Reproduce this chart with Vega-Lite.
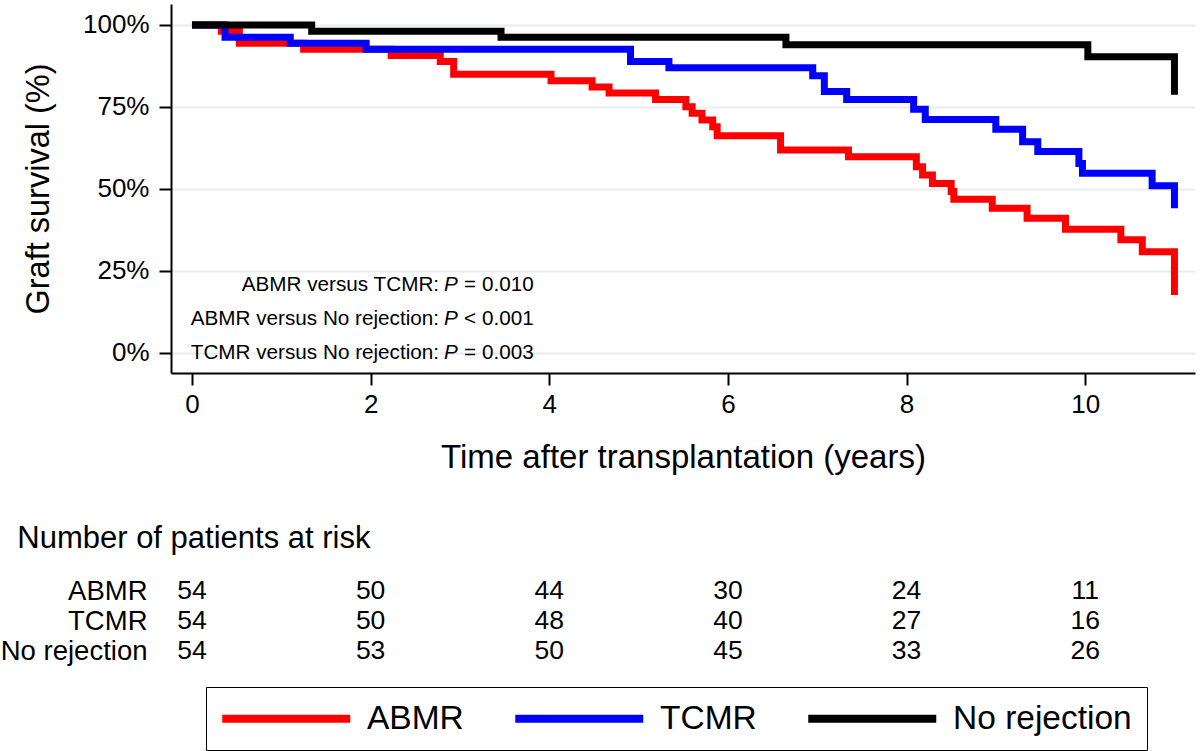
{
  "$schema": "https://vega.github.io/schema/vega-lite/v6.json",
  "padding": {"left": 0, "top": 4, "right": 4, "bottom": 0},
  "background": "white",
  "spacing": 49,
  "config": {
    "font": "Liberation Sans",
    "view": {"stroke": null},
    "axis": {
      "domainColor": "black", "domainWidth": 2,
      "tickColor": "black", "tickWidth": 2, "tickSize": 12,
      "labelColor": "black", "titleColor": "black",
      "labelFont": "Liberation Sans", "titleFont": "Liberation Sans",
      "titleFontWeight": "normal"
    },
    "legend": {
      "labelFont": "Liberation Sans", "labelFontSize": 33.5, "labelColor": "black", "labelLimit": 500
    }
  },
  "datasets": {
    "curves": [
      {"g": "ABMR", "t": 0, "s": 100},
      {"g": "ABMR", "t": 0.33, "s": 98.1},
      {"g": "ABMR", "t": 0.53, "s": 94.4},
      {"g": "ABMR", "t": 1.25, "s": 92.6},
      {"g": "ABMR", "t": 2.23, "s": 90.7},
      {"g": "ABMR", "t": 2.78, "s": 88.9},
      {"g": "ABMR", "t": 2.93, "s": 85.0},
      {"g": "ABMR", "t": 4.02, "s": 83.0},
      {"g": "ABMR", "t": 4.48, "s": 81.1},
      {"g": "ABMR", "t": 4.67, "s": 79.3},
      {"g": "ABMR", "t": 5.19, "s": 77.3},
      {"g": "ABMR", "t": 5.53, "s": 75.1},
      {"g": "ABMR", "t": 5.60, "s": 73.1},
      {"g": "ABMR", "t": 5.71, "s": 71.0},
      {"g": "ABMR", "t": 5.83, "s": 69.0},
      {"g": "ABMR", "t": 5.88, "s": 66.2},
      {"g": "ABMR", "t": 6.59, "s": 61.9},
      {"g": "ABMR", "t": 7.35, "s": 59.8},
      {"g": "ABMR", "t": 8.11, "s": 56.8},
      {"g": "ABMR", "t": 8.18, "s": 54.3},
      {"g": "ABMR", "t": 8.29, "s": 51.7},
      {"g": "ABMR", "t": 8.50, "s": 49.2},
      {"g": "ABMR", "t": 8.53, "s": 46.9},
      {"g": "ABMR", "t": 8.96, "s": 44.1},
      {"g": "ABMR", "t": 9.35, "s": 41.1},
      {"g": "ABMR", "t": 9.78, "s": 37.7},
      {"g": "ABMR", "t": 10.40, "s": 34.5},
      {"g": "ABMR", "t": 10.64, "s": 30.9},
      {"g": "ABMR", "t": 11.0, "s": 17.7},
      {"g": "TCMR", "t": 0, "s": 100},
      {"g": "TCMR", "t": 0.37, "s": 96.3},
      {"g": "TCMR", "t": 1.1, "s": 94.4},
      {"g": "TCMR", "t": 1.95, "s": 92.6},
      {"g": "TCMR", "t": 4.91, "s": 88.9},
      {"g": "TCMR", "t": 5.34, "s": 87.0},
      {"g": "TCMR", "t": 6.95, "s": 84.5},
      {"g": "TCMR", "t": 7.08, "s": 79.7},
      {"g": "TCMR", "t": 7.33, "s": 77.3},
      {"g": "TCMR", "t": 8.08, "s": 74.3},
      {"g": "TCMR", "t": 8.21, "s": 71.2},
      {"g": "TCMR", "t": 9.0, "s": 68.2},
      {"g": "TCMR", "t": 9.3, "s": 64.4},
      {"g": "TCMR", "t": 9.47, "s": 61.4},
      {"g": "TCMR", "t": 9.93, "s": 57.8},
      {"g": "TCMR", "t": 9.97, "s": 54.8},
      {"g": "TCMR", "t": 10.75, "s": 51.0},
      {"g": "TCMR", "t": 11.0, "s": 44.1},
      {"g": "No rejection", "t": 0, "s": 100},
      {"g": "No rejection", "t": 1.34, "s": 98.1},
      {"g": "No rejection", "t": 3.46, "s": 96.3},
      {"g": "No rejection", "t": 6.65, "s": 94.0},
      {"g": "No rejection", "t": 10.03, "s": 90.3},
      {"g": "No rejection", "t": 11.0, "s": 78.7}
    ],
    "notes": [
      {"cmp": "ABMR versus TCMR:", "op": "= 0.010", "y": 20.7},
      {"cmp": "ABMR versus No rejection:", "op": "< 0.001", "y": 10.4},
      {"cmp": "TCMR versus No rejection:", "op": "= 0.003", "y": 0.0}
    ],
    "risk": [
      {"g": "ABMR", "t": 0, "n": 54}, {"g": "ABMR", "t": 2, "n": 50}, {"g": "ABMR", "t": 4, "n": 44},
      {"g": "ABMR", "t": 6, "n": 30}, {"g": "ABMR", "t": 8, "n": 24}, {"g": "ABMR", "t": 10, "n": 11},
      {"g": "TCMR", "t": 0, "n": 54}, {"g": "TCMR", "t": 2, "n": 50}, {"g": "TCMR", "t": 4, "n": 48},
      {"g": "TCMR", "t": 6, "n": 40}, {"g": "TCMR", "t": 8, "n": 27}, {"g": "TCMR", "t": 10, "n": 16},
      {"g": "No rejection", "t": 0, "n": 54}, {"g": "No rejection", "t": 2, "n": 53}, {"g": "No rejection", "t": 4, "n": 50},
      {"g": "No rejection", "t": 6, "n": 45}, {"g": "No rejection", "t": 8, "n": 33}, {"g": "No rejection", "t": 10, "n": 26}
    ]
  },
  "vconcat": [
    {
      "width": 1024,
      "height": 369,
      "layer": [
        {
          "data": {"name": "curves"},
          "mark": {"type": "line", "interpolate": "step-after", "strokeWidth": 7},
          "encoding": {
            "x": {
              "field": "t", "type": "quantitative",
              "scale": {"domain": [-0.235, 11.23], "nice": false, "zero": false},
              "axis": {
                "values": [0, 2, 4, 6, 8, 10], "format": "d", "grid": false,
                "title": "Time after transplantation (years)",
                "titleFontSize": 33, "labelFontSize": 26, "labelPadding": 6, "titlePadding": 24
              }
            },
            "y": {
              "field": "s", "type": "quantitative",
              "scale": {"domain": [-6.1, 106.4], "nice": false, "zero": false},
              "axis": {
                "values": [0, 25, 50, 75, 100], "labelExpr": "datum.value + '%'",
                "grid": true, "gridColor": "#e6eef1", "gridWidth": 2,
                "title": "Graft survival (%)",
                "titleFontSize": 32.5, "labelFontSize": 26, "labelPadding": 10, "titlePadding": 27
              }
            },
            "color": {
              "field": "g", "type": "nominal",
              "scale": {"domain": ["ABMR", "TCMR", "No rejection"], "range": ["#ff0000", "#0000ff", "#000000"]},
              "legend": {
                "title": null, "orient": "none", "direction": "horizontal",
                "legendX": 35, "legendY": 683,
                "symbolType": "M-1.25,0H9.417", "symbolSize": 576, "symbolStrokeWidth": 8,
                "labelOffset": 113, "columnPadding": 34, "padding": 14.5,
                "strokeColor": "black"
              }
            }
          }
        },
        {
          "data": {"name": "notes"},
          "mark": {"type": "text", "align": "right", "baseline": "middle", "fontSize": 20.7, "dx": -3, "color": "black"},
          "encoding": {
            "x": {"datum": 2.8},
            "y": {"field": "y", "type": "quantitative"},
            "text": {"field": "cmp"}
          }
        },
        {
          "data": {"name": "notes"},
          "mark": {"type": "text", "align": "left", "baseline": "middle", "fontSize": 20.7, "dx": 2, "fontStyle": "italic", "color": "black"},
          "encoding": {
            "x": {"datum": 2.8},
            "y": {"field": "y", "type": "quantitative"},
            "text": {"value": "P"}
          }
        },
        {
          "data": {"name": "notes"},
          "mark": {"type": "text", "align": "left", "baseline": "middle", "fontSize": 20.7, "dx": 22, "color": "black"},
          "encoding": {
            "x": {"datum": 2.8},
            "y": {"field": "y", "type": "quantitative"},
            "text": {"field": "op"}
          }
        }
      ]
    },
    {
      "width": 1024,
      "height": 90,
      "data": {"name": "risk"},
      "title": {
        "text": "Number of patients at risk", "anchor": "start", "frame": "bounds",
        "fontSize": 31, "fontWeight": "normal", "font": "Liberation Sans", "color": "black",
        "offset": 21, "dx": 17
      },
      "mark": {"type": "text", "fontSize": 26.5, "color": "black", "baseline": "middle"},
      "encoding": {
        "x": {
          "field": "t", "type": "quantitative",
          "scale": {"domain": [-0.235, 11.23], "nice": false, "zero": false},
          "axis": null
        },
        "y": {
          "field": "g", "type": "nominal",
          "sort": ["ABMR", "TCMR", "No rejection"],
          "axis": {"title": null, "domain": false, "ticks": false, "labelFontSize": 27.5, "labelPadding": 24, "labelColor": "black"}
        },
        "text": {"field": "n", "type": "quantitative"}
      }
    }
  ]
}
